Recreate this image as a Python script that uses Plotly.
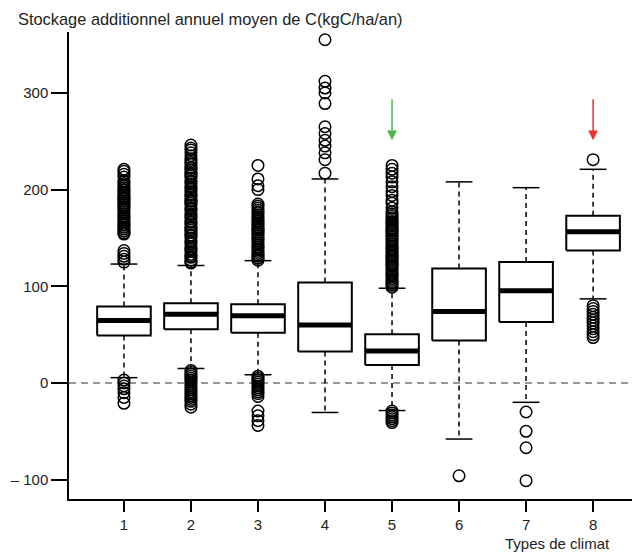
import plotly.graph_objects as go

# climate types and box statistics (kgC/ha/an)
types = [1, 2, 3, 4, 5, 6, 7, 8]
q1 = [49, 55.5, 52, 32.5, 18.5, 44, 63, 137]
med = [64.5, 71, 69.5, 60, 33, 74, 95.5, 156.5]
q3 = [79, 82.5, 81.5, 104, 50.5, 118.5, 125, 173]
whisk_lo = [5.5, 15, 8.5, -30.5, -28.5, -58, -20, 87]
whisk_hi = [123, 121.5, 126.5, 211, 98, 208, 202, 221]

# outliers (dense columns = many overlapping circles)
out1 = [-21, -15, -10, -6, -3, 0, 3,
        125, 128, 131, 134, 137,
        154, 155, 157, 159, 161, 163, 164, 166, 168, 170, 172, 173, 175, 177,
        179, 181, 182, 184, 186, 188, 190, 191, 193, 195, 197, 199, 200, 202,
        204, 206, 208, 209, 213, 216, 219, 221]
out2 = [-25, -22, -19, -17, -15, -13, -11, -9, -7, -5, -3, -1, 1, 3, 5, 7,
        9, 11, 13,
        124, 125, 127, 130, 131, 133, 136, 138, 139, 141, 144, 146, 147, 150,
        152, 153, 156, 158, 160, 161, 164, 166, 167, 170, 172, 174, 175, 178,
        180, 181, 184, 186, 188, 189, 192, 194, 195, 198, 200, 202, 203, 206,
        208, 209, 212, 214, 216, 217, 220, 222, 223, 226, 228, 230, 232, 235,
        238, 241, 243, 246]
out3 = [-44, -39, -34, -29, -14, -11, -9, -7, -5, -3, -1, 1, 3, 5, 7,
        127, 129, 131, 132, 134, 136, 138, 140, 141, 143, 145, 147, 149, 150,
        152, 154, 156, 158, 159, 161, 163, 165, 167, 168, 170, 172, 174, 176,
        177, 179, 181, 183, 185, 200, 204, 211, 225]
out4 = [217, 231, 238, 245, 251, 258, 265, 289, 300, 305, 312, 355]
out5 = [-41, -39, -37, -35, -33, -31, -29,
        99, 101, 103, 104, 106, 108, 110, 112, 113, 115, 117, 119, 121, 122,
        124, 126, 128, 130, 131, 133, 135, 137, 139, 140, 142, 144, 146, 148,
        149, 151, 153, 155, 157, 158, 160, 162, 164, 166, 167, 169, 171, 173,
        175, 177, 181, 186, 189, 194, 198, 203, 208, 213, 217, 221, 225]
out6 = [-96]
out7 = [-30, -50, -67, -101]
out8 = [47, 50, 53, 56, 59, 62, 65, 68, 71, 74, 77, 80, 231]
outliers = [out1, out2, out3, out4, out5, out6, out7, out8]

ytick_vals = [-100, 0, 100, 200, 300]
ytick_text = ["– 100", "0", "100", "200", "300"]

BW = 0.4   # half box width
CW = 0.2   # half cap width

bx, by, mx, my, wx, wy, cx, cy = [], [], [], [], [], [], [], []
for t, a, m, b, lo, hi in zip(types, q1, med, q3, whisk_lo, whisk_hi):
    bx += [t - BW, t + BW, t + BW, t - BW, t - BW, None]
    by += [a, a, b, b, a, None]
    mx += [t - BW, t + BW, None]
    my += [m, m, None]
    wx += [t, t, None, t, t, None]
    wy += [b, hi, None, a, lo, None]
    cx += [t - CW, t + CW, None, t - CW, t + CW, None]
    cy += [hi, hi, None, lo, lo, None]

ox, oy = [], []
for t, vals in zip(types, outliers):
    ox += [t] * len(vals)
    oy += vals

fig = go.Figure()
fig.add_trace(go.Scatter(x=wx, y=wy, mode="lines",
                         line=dict(color="black", width=1.5, dash="5px,4px")))
fig.add_trace(go.Scatter(x=cx, y=cy, mode="lines",
                         line=dict(color="black", width=1.5)))
fig.add_trace(go.Scatter(x=bx, y=by, mode="lines", fill="toself",
                         fillcolor="white", line=dict(color="black", width=2)))
fig.add_trace(go.Scatter(x=mx, y=my, mode="lines",
                         line=dict(color="black", width=5)))
fig.add_trace(go.Scatter(x=ox, y=oy, mode="markers",
                         marker=dict(symbol="circle-open", size=11.5, color="black",
                                     line=dict(width=1.5))))

# dashed reference line at 0
fig.add_shape(type="line", xref="paper", x0=0, x1=1, yref="y", y0=0, y1=0,
              line=dict(color="#777", width=1.5, dash="7px,5px"), layer="below")

# arrows above types 5 and 8
for t, col in [(5, "#4db748"), (8, "#e8322b")]:
    fig.add_annotation(x=t, y=251, ax=t, ay=295, xref="x", yref="y",
                       axref="x", ayref="y", text="", showarrow=True,
                       arrowhead=2, arrowsize=1.3, arrowwidth=1.5, arrowcolor=col)

fig.add_annotation(text="Types de climat", xref="paper", yref="paper",
                   x=0.856, y=-0.095, xanchor="center", yanchor="middle",
                   showarrow=False, font=dict(size=15, color="#222"))

# the page body adds an 8px margin, so the figure is sized to fit inside 640x555
fig.update_layout(
    width=632, height=547,
    margin=dict(l=61, r=0, t=24, b=56),
    paper_bgcolor="white", plot_bgcolor="white",
    showlegend=False,
    font=dict(family="Liberation Sans, Arial, sans-serif", size=15, color="#222"),
    title=dict(text="Stockage additionnel annuel moyen de C(kgC/ha/an)",
               xref="container", x=10 / 632, xanchor="left",
               yref="container", y=1 - 11 / 547, yanchor="middle",
               font=dict(size=16.4, color="#222")),
    xaxis=dict(range=[0.18, 8.70], tickvals=types, ticks="outside", ticklen=11,
               tickwidth=1.5, tickcolor="black", showline=True, linecolor="black",
               linewidth=1.5, showgrid=False, zeroline=False),
    yaxis=dict(range=[-120, 363], tickvals=ytick_vals, ticktext=ytick_text,
               ticks="outside", ticklen=16, tickwidth=1.5, tickcolor="black",
               showline=True, linecolor="black", linewidth=1.5,
               showgrid=False, zeroline=False),
)

fig.write_html("out.html")
